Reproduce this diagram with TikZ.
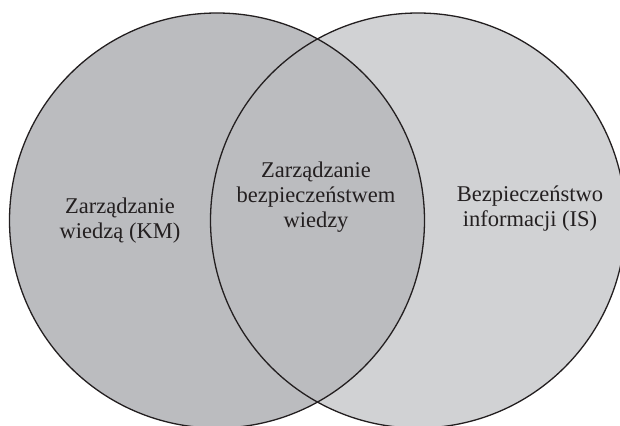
\documentclass[tikz,border=0pt]{standalone}
\usepackage{fontspec}
\setmainfont{Liberation Serif}
\definecolor{leftgray}{HTML}{BBBCBF}
\definecolor{rightgray}{HTML}{D1D2D4}
\definecolor{edge}{HTML}{231F20}
\begin{document}
\begin{tikzpicture}[x=1pt,y=-1pt,
  ring/.style={draw=edge,line width=1.3pt},
  label/.style={align=center,font=\fontsize{22.5}{25}\selectfont,text=edge,inner sep=0pt}]
\useasboundingbox (0,0) rectangle (620,425);
\clip (0,0) rectangle (620,425);
\coordinate (cl) at (217,220.5);
\coordinate (cr) at (418,220.5);
\fill[rightgray] (cr) circle[radius=207.5];
\fill[leftgray] (cl) circle[radius=207.5];
\draw[ring] (cl) circle[radius=207.5];
\draw[ring] (cr) circle[radius=207.5];
\node[label] (km) at (120,220.5) {Zarządzanie\\wiedzą (KM)};
\node[label] (kms) at (316,197) {Zarządzanie\\bezpieczeństwem\\wiedzy};
\node[label] (is) at (530,208.5) {Bezpieczeństwo\\informacji (IS)};
\end{tikzpicture}
\end{document}
